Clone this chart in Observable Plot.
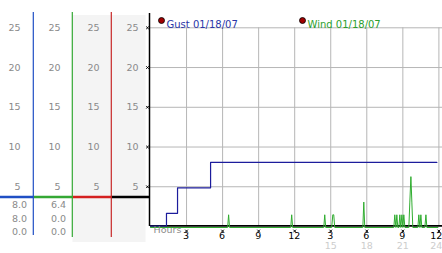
<!DOCTYPE html>
<html><head><meta charset="utf-8">
<script src="https://cdn.jsdelivr.net/npm/d3@7"></script>
<script src="https://cdn.jsdelivr.net/npm/@observablehq/plot@0.6"></script>
<style>body{margin:0;background:#fff}svg{display:block}</style>
</head><body><div id="chart"></div>
<script>
// ---- data ----
const yTicks = [5, 10, 15, 20, 25];
const xTicks = [3, 6, 9, 12, 15, 18, 21, 24];
const xTickLabels = ["3", "6", "9", "12", "3", "6", "9", "12"];
const xTickLabels2 = ["", "", "", "", "15", "18", "21", "24"];
const gustHours = [0, 1.33, 2.25, 5.0, 23.83];
const gustValues = [0, 1.6, 4.8, 8.0, 8.0];
const windHours = [0,
  6.42, 6.5, 6.58,
  11.67, 11.75, 11.83,
  14.42, 14.5, 14.58,
  15.08, 15.17, 15.25, 15.33,
  17.67, 17.75, 17.83,
  20.25, 20.33, 20.42, 20.5, 20.58, 20.67, 20.75, 20.83, 20.92, 21.0, 21.08, 21.17,
  21.5, 21.58, 21.67, 21.75, 21.83,
  22.25, 22.33, 22.42, 22.5, 22.58,
  22.83, 22.92, 23.0,
  23.92];
const windValues = [0,
  0, 1.6, 0,
  0, 1.6, 0,
  0, 1.6, 0,
  0, 1.6, 1.6, 0,
  0, 3.2, 0,
  0, 1.6, 0, 1.6, 0, 0, 1.6, 0, 1.6, 0, 1.6, 0,
  0, 3.2, 6.4, 3.2, 0,
  0, 1.6, 0, 1.6, 0,
  0, 1.6, 0,
  0];
const legendLabels = ["Gust 01/18/07", "Wind 01/18/07"];
const currentGust = ["8.0", "8.0", "0.0"];
const currentWind = ["6.4", "0.0", "0.0"];
const xAxisTitle = "Hours";

// ---- build ----
const gust = gustHours.map((h, i) => ({h, v: gustValues[i]}));
const wind = windHours.map((h, i) => ({h, v: windValues[i]}));
const ticks = xTicks.map((h, i) => ({h, a: xTickLabels[i], b: xTickLabels2[i]}));
const inner = ticks.slice(0, -1), last = ticks.slice(-1);
const GUST = "#1c1c9c", WIND = "#30ad30";
const colRights = [20, 60, 99, 138];

const plot = Plot.plot({
  width: 442, height: 253,
  marginLeft: 150, marginRight: 0, marginTop: 13, marginBottom: 27,
  x: {domain: [0, 24.3], axis: null},
  y: {domain: [0, 26.8], axis: null},
  style: {fontFamily: "DejaVu Sans", background: "transparent"},
  marks: [
    Plot.ruleY(yTicks, {stroke: "#b6b6b6", strokeWidth: 1}),
    Plot.ruleX(xTicks, {y1: 0, y2: 25, stroke: "#b6b6b6", strokeWidth: 1}),
    Plot.ruleY([0], {stroke: "#000", strokeWidth: 1.6, dy: -0.6}),
    Plot.ruleX([0], {stroke: "#000", strokeWidth: 1.5, dx: -1}),
    Plot.line(wind, {x: "h", y: "v", stroke: WIND, strokeWidth: 1, dy: 1}),
    Plot.line(gust, {x: "h", y: "v", curve: "step-after", stroke: GUST, strokeWidth: 1.2, dy: -0.5}),
    Plot.dot(yTicks, {y: d => d, frameAnchor: "left", dx: -3, symbol: "times", r: 1.3, stroke: "#000", strokeWidth: 1}),
    Plot.dot(xTicks, {x: d => d, frameAnchor: "bottom", dy: 4.5, symbol: "times", r: 1.3, stroke: "#000", strokeWidth: 1}),
    Plot.text(inner, {x: "h", text: "a", frameAnchor: "bottom", dy: 12, dx: -0.5, fill: "#000", fontSize: 9.5}),
    Plot.text(last, {x: "h", text: "a", frameAnchor: "bottom", dy: 12, dx: 3.5, textAnchor: "end", fill: "#000", fontSize: 9.5}),
    Plot.text(inner, {x: "h", text: "b", frameAnchor: "bottom", dy: 22.5, fill: "#cdcdcd", fontSize: 9.5}),
    Plot.text(last, {x: "h", text: "b", frameAnchor: "bottom", dy: 22.5, dx: 3.5, textAnchor: "end", fill: "#cdcdcd", fontSize: 9.5}),
    Plot.text([xAxisTitle], {text: d => d, frameAnchor: "bottom-left", dx: 3, dy: 6, textAnchor: "start", fill: "#8c8c8c", fontSize: 9.5}),
    ...colRights.map(r => Plot.text(yTicks, {y: d => d, text: d => String(d), frameAnchor: "left", dx: r - 150, textAnchor: "end", fill: "#8a8a8a", fontSize: 9.5})),
    Plot.dot([0], {frameAnchor: "top-left", dx: 11, dy: 7, r: 3, fill: "#a00000", stroke: "#000", strokeWidth: 0.8}),
    Plot.text([legendLabels[0]], {text: d => d, frameAnchor: "top-left", dx: 16, dy: 7, textAnchor: "start", fill: "#2a36a8", fontSize: 10}),
    Plot.dot([0], {frameAnchor: "top-left", dx: 152, dy: 7, r: 3, fill: "#a00000", stroke: "#000", strokeWidth: 0.8}),
    Plot.text([legendLabels[1]], {text: d => d, frameAnchor: "top-left", dx: 157, dy: 7, textAnchor: "start", fill: "#2c9e2c", fontSize: 10})
  ]
});
document.getElementById("chart").appendChild(plot);

// ---- left readout panel (decoration) ----
const svg = d3.select(plot);
const bg = svg.insert("g", ":first-child");
bg.append("rect").attr("x", 72.5).attr("y", 15).attr("width", 73).attr("height", 227).attr("fill", "#f4f4f4");
const deco = svg.append("g");
const sepY = 197;
[[0, 33.3, "#1f4fc4"], [33.3, 72.3, "#34a834"], [72.3, 111.3, "#d42020"], [111.3, 149, "#000"]].forEach(([a, b, c]) => {
  deco.append("line").attr("x1", a).attr("x2", b).attr("y1", sepY).attr("y2", sepY).attr("stroke", c).attr("stroke-width", 2.4);
});
[[33.3, 235, "#1f4fc4"], [72.3, 237, "#34a834"], [111.3, 237, "#c82828"]].forEach(([x, y2, c]) => {
  deco.append("line").attr("x1", x).attr("x2", x).attr("y1", 12).attr("y2", y2).attr("stroke", c).attr("stroke-width", 1.2);
});
const rowsY = [204.5, 218.5, 232];
[[currentGust, 27], [currentWind, 66]].forEach(([vals, xr]) => {
  vals.forEach((t, i) => {
    deco.append("text").attr("x", xr).attr("y", rowsY[i]).attr("dy", "0.35em").attr("text-anchor", "end")
      .attr("fill", "#8a8a8a").attr("font-size", 9.5).attr("font-family", "DejaVu Sans").text(t);
  });
});
</script>
</body></html>
